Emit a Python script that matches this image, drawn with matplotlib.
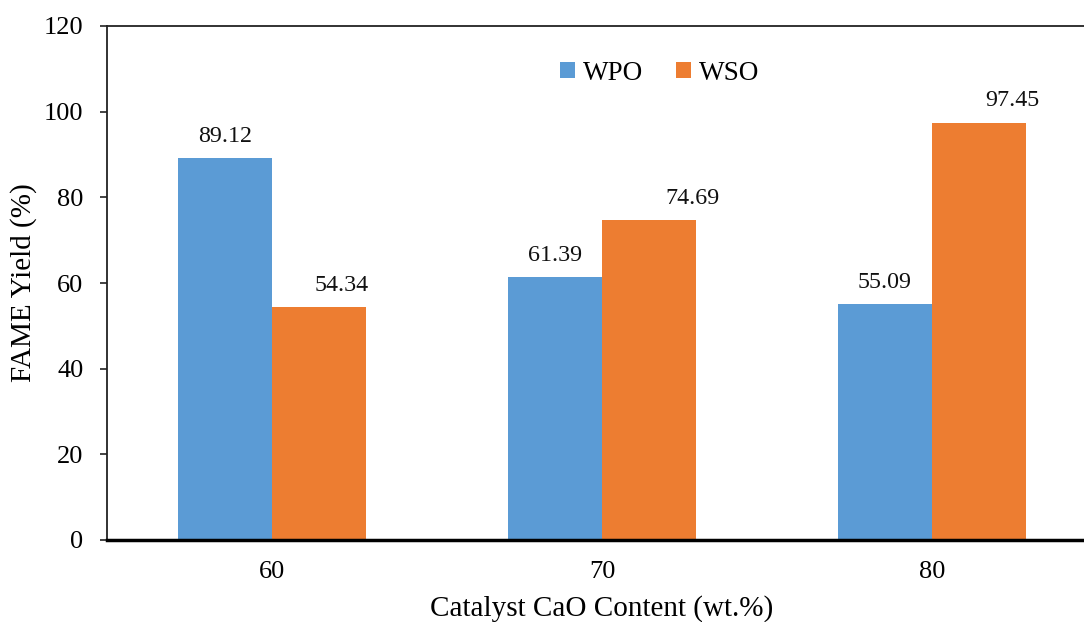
import matplotlib
matplotlib.use("Agg")
import matplotlib.pyplot as plt
import numpy as np

# Catalyst CaO content (wt.%) and FAME yield per oil feedstock
categories = ["60", "70", "80"]
wpo_yield = [89.12, 61.39, 55.09]
wso_yield = [54.34, 74.69, 97.45]
series_names = ["WPO", "WSO"]
y_ticks = [0, 20, 40, 60, 80, 100, 120]

plt.rcParams["font.family"] = ["Liberation Serif", "DejaVu Serif"]

fig = plt.figure(figsize=(10.84, 6.22), dpi=100)
ax = fig.add_axes([107 / 1084, 82 / 622, 990 / 1084, 514 / 622])

x = np.arange(len(categories))
w = 0.285
blue = "#5B9BD5"
orange = "#ED7D31"
b1 = ax.bar(x - w / 2, wpo_yield, w, color=blue, label=series_names[0], linewidth=0)
b2 = ax.bar(x + w / 2, wso_yield, w, color=orange, label=series_names[1], linewidth=0)

# horizontal nudges (points) for the data labels of each series
nudge = {0: [0, 0, 0], 1: [16, 31, 24]}
for s, (bars, vals) in enumerate(((b1, wpo_yield), (b2, wso_yield))):
    for i, (rect, v) in enumerate(zip(bars, vals)):
        ax.annotate(f"{v:.2f}", (rect.get_x() + rect.get_width() / 2, v),
                    xytext=(nudge[s][i], 8), textcoords="offset points",
                    ha="center", va="bottom", fontsize=17.3, color="#111111")

ax.set_xlim(-0.5, 2.5)
ax.set_ylim(0, 120)
ax.set_yticks(y_ticks)
ax.set_xticks(x)
ax.set_xticklabels(categories)

ax.tick_params(axis="y", direction="out", length=5, width=1.2, pad=12,
               labelsize=19, color="#222222")
ax.tick_params(axis="x", length=0, pad=15, labelsize=19)

ax.spines["right"].set_visible(False)
ax.spines["left"].set_linewidth(1.3)
ax.spines["left"].set_color("#222222")
ax.spines["top"].set_linewidth(1.3)
ax.spines["top"].set_color("#222222")
ax.spines["bottom"].set_linewidth(2.5)
ax.spines["bottom"].set_color("black")

ax.set_ylabel("FAME Yield (%)", fontsize=21, labelpad=5)
ax.set_xlabel("Catalyst CaO Content (wt.%)", fontsize=21, labelpad=8.5)

ax.legend(loc="center", bbox_to_anchor=((660 - 107) / 990, (540 - 73) / 514),
          ncol=2, frameon=False, fontsize=19.5, handlelength=0.55, handleheight=0.55,
          handletextpad=0.3, columnspacing=1.2)

fig.savefig("out.png", dpi=100)
